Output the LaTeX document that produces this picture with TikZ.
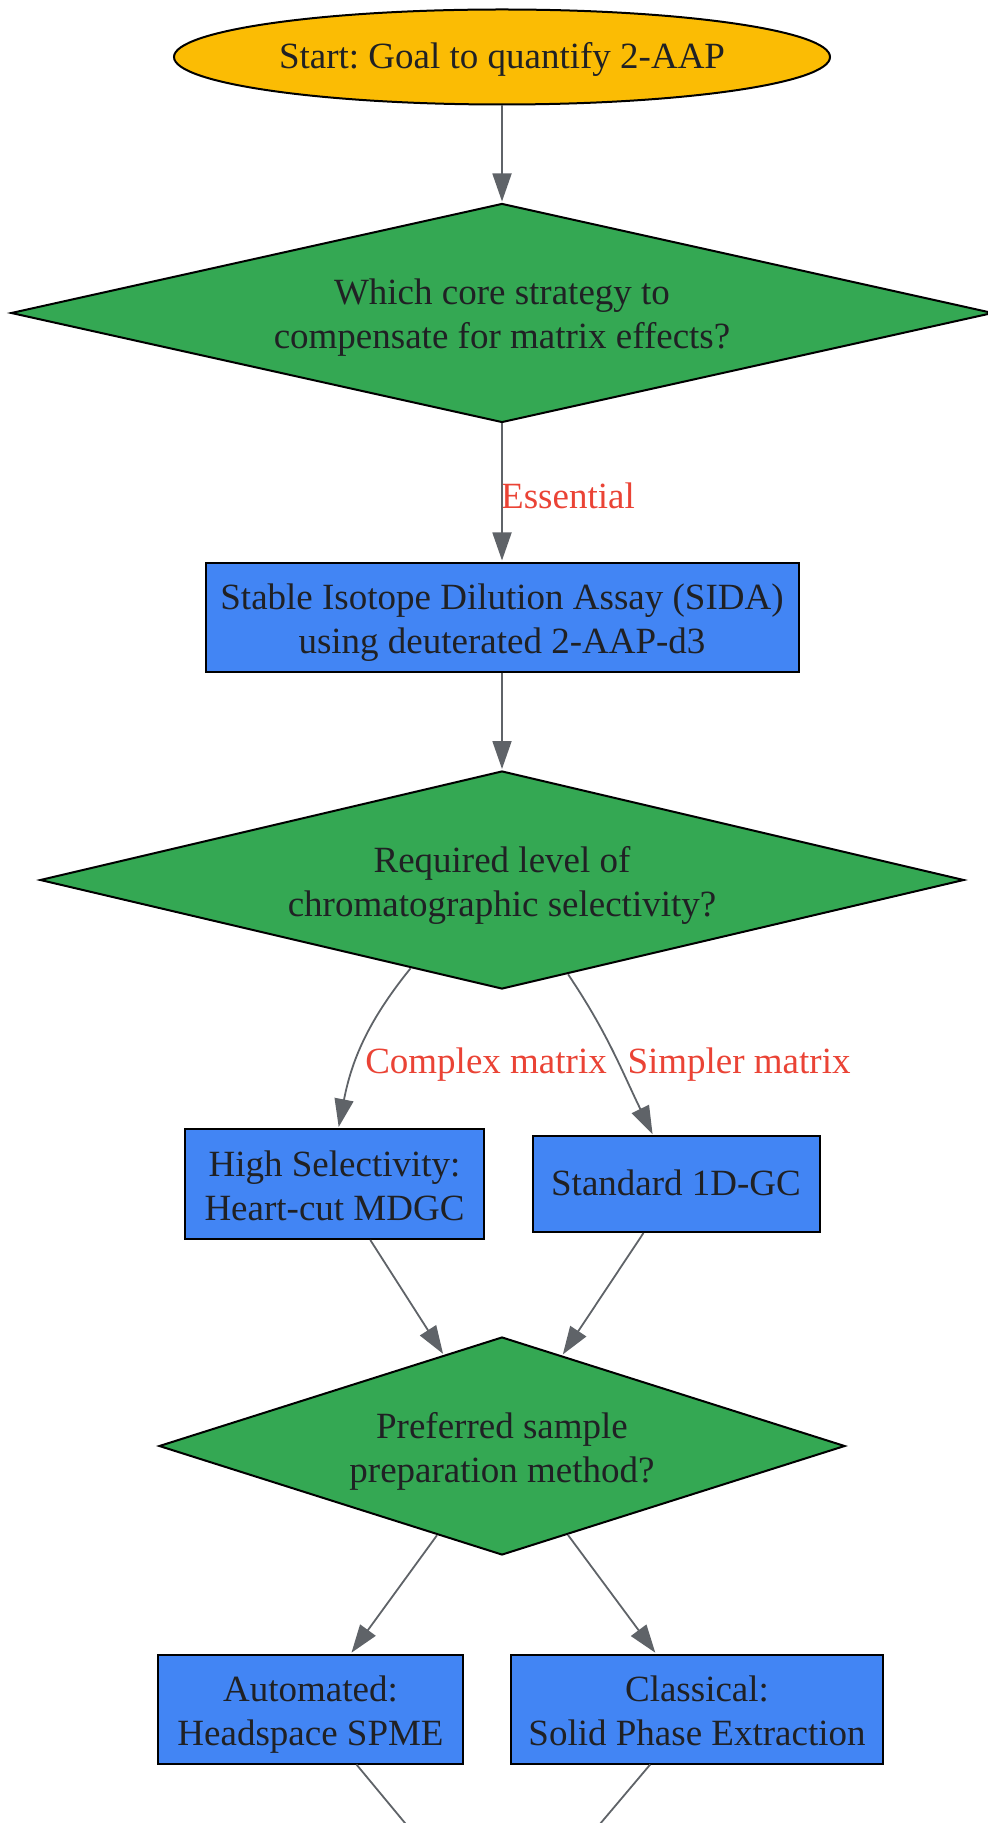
\documentclass[tikz,border=0pt]{standalone}
\usepackage{fontspec}
\setmainfont{Liberation Serif}
\usetikzlibrary{shapes.geometric,arrows.meta}
\definecolor{cyel}{HTML}{FBBC04}
\definecolor{cgreen}{HTML}{34A853}
\definecolor{cblue}{HTML}{4285F4}
\definecolor{cgray}{HTML}{5F6368}
\definecolor{cred}{HTML}{EA4335}
\definecolor{ctext}{HTML}{202124}
\frenchspacing
\newcommand{\nodetxt}[2]{\raisebox{#1}[\height][\depth]{\begin{tabular}{@{}c@{}}#2\end{tabular}}}
\begin{document}
\begin{tikzpicture}[x=0.5pt,y=-0.5pt,
  base/.style={draw=black, line width=1pt, text=ctext, font=\fontsize{18.5}{22}\selectfont\frenchspacing, align=center, inner sep=0pt},
  startnode/.style={base, ellipse, fill=cyel, minimum width=328pt, minimum height=47.5pt},
  decision/.style={base, diamond, fill=cgreen},
  procbox/.style={base, rectangle, fill=cblue},
  conn/.style={draw=cgray, line width=0.9pt, -{Triangle[length=14pt,width=9.5pt]}, shorten >=0.5pt},
  plainconn/.style={draw=cgray, line width=0.9pt},
  elabel/.style={text=cred, font=\fontsize{18.5}{22}\selectfont, inner sep=0pt}]
\useasboundingbox (0,0) rectangle (988,1823);

\node[startnode] (start) at (502,57) {\nodetxt{-1.2pt}{Start: Goal to quantify 2-AAP}};
\node[decision, aspect=4.48, minimum width=491pt, minimum height=109.5pt] (d1) at (502,313) {\nodetxt{-2.6pt}{Which core strategy to\\compensate for matrix effects?}};
\node[procbox, minimum width=296.5pt, minimum height=54.5pt] (sida) at (502,617) {\nodetxt{-2.6pt}{Stable Isotope Dilution Assay (SIDA)\\using deuterated 2-AAP-d3}};
\node[decision, aspect=4.24, minimum width=462pt, minimum height=109pt] (d2) at (502,880) {\nodetxt{-2.6pt}{Required level of\\chromatographic selectivity?}};
\node[procbox, minimum width=149.5pt, minimum height=55pt] (hs) at (334.5,1184) {\nodetxt{-2.6pt}{High Selectivity:\\Heart-cut MDGC}};
\node[procbox, minimum width=143.5pt, minimum height=48pt] (gc) at (676,1184) {\nodetxt{-1.2pt}{Standard 1D-GC}};
\node[decision, aspect=3.15, minimum width=343pt, minimum height=109pt] (d3) at (502,1446) {\nodetxt{-2.6pt}{Preferred sample\\preparation method?}};
\node[procbox, minimum width=152.5pt, minimum height=54.5pt] (auto) at (310.5,1709) {\nodetxt{-2.6pt}{Automated:\\Headspace SPME}};
\node[procbox, minimum width=186pt, minimum height=54.5pt] (cls) at (697,1709) {\nodetxt{-2.6pt}{Classical:\\Solid Phase Extraction}};

\node[elabel] (lessential) at (568,496) {Essential};
\node[elabel] (lcomplex) at (486,1064.5) {Complex matrix};
\node[elabel] (lsimpler) at (739,1064.5) {Simpler matrix};

\coordinate (next) at (502,1940);

\draw[conn] (start) -- (d1);
\draw[conn] (d1) -- (sida);
\draw[conn] (sida) -- (d2);
\draw[conn] (d2.224.7) to[out=231, in=79] ([xshift=2pt]hs.north);
\draw[conn] (d2.-55.6) to[out=-56, in=116] ([xshift=-11.5pt]gc.north);
\draw[conn] (hs) -- (d3);
\draw[conn] (gc) -- (d3);
\draw[conn] (d3) -- (auto);
\draw[conn] (d3) -- (cls);
\begin{scope}
\clip (0,0) rectangle (988,1823);
\draw[plainconn] (auto) -- (next);
\draw[plainconn] (cls) -- (next);
\end{scope}
\end{tikzpicture}
\end{document}
